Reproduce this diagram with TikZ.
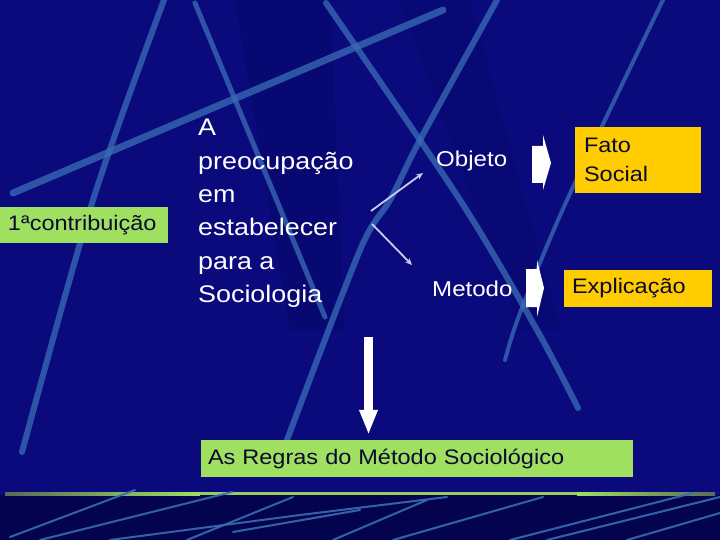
\documentclass[tikz,border=0pt]{standalone}
\usepackage{fontspec}
\setmainfont{Liberation Sans}[FakeStretch=1.12]
\usetikzlibrary{arrows.meta}
\definecolor{bg}{HTML}{0A0A7C}
\definecolor{bgdark}{HTML}{04044E}
\definecolor{streak}{HTML}{3A6DB5}
\definecolor{boxgreen}{HTML}{A0E060}
\definecolor{boxorange}{HTML}{FFCC00}
\definecolor{boxtext}{HTML}{0A0A30}
\definecolor{thinarrow}{HTML}{C8CCF0}
\definecolor{bandgray}{HTML}{5A6A5A}
\begin{document}
\begin{tikzpicture}[x=1pt,y=-1pt,
  bgline/.style={streak,line width=6pt,opacity=.75,line cap=round},
  lowline/.style={streak,line width=2pt,opacity=.9,line cap=round},
  greenbox/.style={fill=boxgreen,text=boxtext,inner ysep=0pt,align=left},
  orangebox/.style={fill=boxorange,text=boxtext,inner ysep=0pt,align=left},
  whitetext/.style={text=white,inner sep=0pt},
  thinarr/.style={thinarrow,line width=1.8pt,-{Stealth[length=7pt,width=6pt]}},
  blockarr/.style={fill=white}]
\useasboundingbox (0,0) rectangle (720,540);
% background
\fill[bg] (0,0) rectangle (720,540);
\fill[bgdark,opacity=.18] (235,0) -- (330,0) -- (345,330) -- (290,330) -- cycle;
\fill[bgdark,opacity=.15] (400,0) -- (470,0) -- (560,330) -- (520,330) -- cycle;
% decorative streaks
\draw[bgline] plot[smooth] coordinates {(164,0) (93,200) (22,452)};
\draw[bgline,line width=5pt] (195,3) -- (325,317);
\draw[bgline,line width=7pt] (13,193) -- (443,10);
\draw[bgline] plot[smooth] coordinates {(326,3) (460,200) (537,330) (578,408)};
\draw[bgline] plot[smooth] coordinates {(497,0) (420,140) (390,200) (360,250) (287,440)};
\draw[bgline,line width=4pt] plot[smooth] coordinates {(663,0) (567,200) (520,313) (505,360)};
% bottom band
\fill[bgdark] (0,495) rectangle (720,540);
\shade[left color=bandgray,right color=boxgreen] (5,492) rectangle (200,495);
\fill[boxgreen!85!bandgray] (200,492) rectangle (577,495);
\shade[left color=boxgreen,right color=bandgray] (577,492) rectangle (715,495);
\draw[lowline] (10,537) -- (135,490);
\draw[lowline] (40,540) -- (232,492);
\draw[lowline] (110,540) -- (300,515) -- (447,497);
\draw[lowline] (187,540) -- (293,497);
\draw[lowline] (233,532) -- (360,510);
\draw[lowline] (333,540) -- (427,500);
\draw[lowline] (393,540) -- (543,497);
\draw[lowline] (510,540) -- (693,493);
\draw[lowline] (547,540) -- (720,497);
\draw[lowline] (627,540) -- (720,513);
% nodes
\node[greenbox,minimum width=168pt,minimum height=36pt,inner xsep=8pt,text width=152pt,
  font=\fontsize{21}{25}\selectfont] (contrib) at (84,225) {1ªcontribuição};
\node[whitetext,anchor=north west,align=left,font=\fontsize{24}{33.4}\selectfont] (preoc) at (198,119)
  {A\\preocupação\\em\\estabelecer\\para a\\Sociologia};
\node[whitetext,anchor=base west,font=\fontsize{21.5}{25}\selectfont] (obj) at (436,167) {Objeto};
\node[whitetext,anchor=base west,font=\fontsize{21.5}{25}\selectfont] (met) at (432,296) {Metodo};
\node[orangebox,minimum width=126pt,minimum height=66pt,inner xsep=9pt,text width=108pt,
  font=\fontsize{21}{29}\selectfont] (fato) at (638,160) {Fato\\Social};
\node[orangebox,minimum width=148pt,minimum height=37pt,inner xsep=8pt,text width=132pt,
  font=\fontsize{21}{25}\selectfont] (expl) at (638,288.5) {Explicação};
\node[greenbox,minimum width=432pt,minimum height=37pt,inner xsep=7pt,text width=418pt,
  font=\fontsize{21}{25}\selectfont] (regras) at (417,458.5) {As Regras do Método Sociológico};
% thin arrows
\coordinate (s1) at (371,211);
\coordinate (e1) at (423,173);
\coordinate (s2) at (372,224);
\coordinate (e2) at (412,265);
\draw[thinarr] (s1) -- (e1);
\draw[thinarr] (s2) -- (e2);
% block arrows
\fill[blockarr] (532,146) -- (543,146) -- (543,135) -- (551,163) -- (543,190) -- (543,183) -- (532,183) -- cycle;
\fill[blockarr] (526,269) -- (537,269) -- (537,260) -- (544,288) -- (537,317) -- (537,307) -- (526,307) -- cycle;
% big down arrow
\coordinate (dstart) at (368.5,337);
\draw[white,line width=9pt,-{Triangle[length=25pt,width=17pt]},shorten >=5pt] (dstart) -- (regras.north -| dstart);
\end{tikzpicture}
\end{document}
